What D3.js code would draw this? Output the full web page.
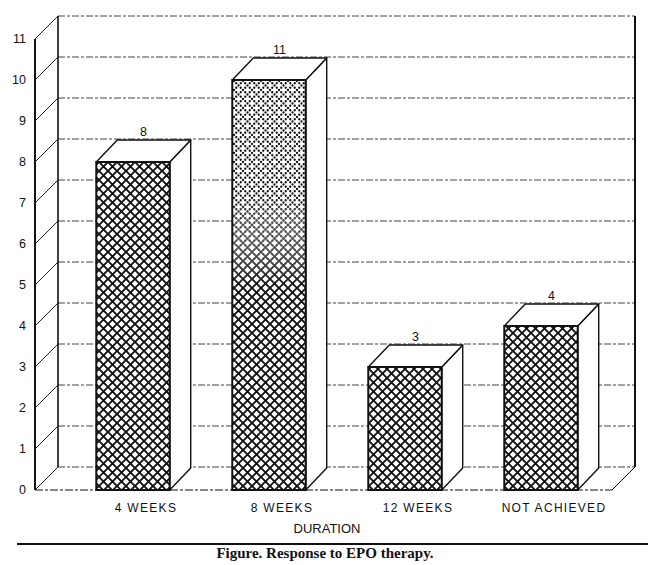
<!DOCTYPE html>
<html>
<head>
<meta charset="utf-8">
<script src="https://cdn.jsdelivr.net/npm/d3@7"></script>
<style>
  body { margin: 0; background: #fff; }
  svg { display: block; }
</style>
</head>
<body>
<div id="chart"></div>
<script>
// data
const categories = ['4 WEEKS', '8 WEEKS', '12 WEEKS', 'NOT ACHIEVED'];
const patients = [8, 10, 3, 4];
const valueLabels = ['8', '11', '3', '4'];
const yTicks = [0, 1, 2, 3, 4, 5, 6, 7, 8, 9, 10, 11];

const W = 650, H = 565;
const wall = { dx: 23, dy: 23 };   // depth of the back wall
const bar3d = { dx: 21, dy: 22 };  // depth of each bar

const svg = d3.select('#chart').append('svg')
  .attr('width', W)
  .attr('height', H);

const defs = svg.append('defs');

// crosshatch diamonds
const hatch = defs.append('pattern')
  .attr('id', 'hatch')
  .attr('patternUnits', 'userSpaceOnUse')
  .attr('width', 9).attr('height', 9);
hatch.append('path')
  .attr('d', 'M0,0L9,9M9,0L0,9')
  .attr('stroke', '#111')
  .attr('stroke-width', 1.9);

// stipple used on the upper part of the 8 weeks bar: dots sitting on the hatch lines
const dotPts = [[0, 0], [9, 0], [0, 9], [9, 9], [4.5, 4.5],
  [2.25, 2.25], [6.75, 2.25], [2.25, 6.75], [6.75, 6.75]];
const dots = defs.append('pattern')
  .attr('id', 'dots')
  .attr('patternUnits', 'userSpaceOnUse')
  .attr('width', 9).attr('height', 9);
dots.selectAll('circle')
  .data(dotPts)
  .join('circle')
  .attr('cx', (d) => d[0])
  .attr('cy', (d) => d[1])
  .attr('r', 1.15)
  .attr('fill', '#111');

function fadeMask(id, top, bottom) {
  const g = defs.append('linearGradient')
    .attr('id', id + 'Grad')
    .attr('x1', 0).attr('y1', 0).attr('x2', 0).attr('y2', 1);
  g.append('stop').attr('offset', 0).attr('stop-color', top);
  g.append('stop').attr('offset', 0.28).attr('stop-color', top);
  g.append('stop').attr('offset', 0.5).attr('stop-color', bottom);
  g.append('stop').attr('offset', 1).attr('stop-color', bottom);
  defs.append('mask')
    .attr('id', id)
    .attr('maskContentUnits', 'objectBoundingBox')
    .append('rect')
    .attr('width', 1).attr('height', 1)
    .attr('fill', `url(#${id}Grad)`);
}
fadeMask('dotMask', '#fff', '#000');
fadeMask('hatchMask', '#000', '#fff');

const x = d3.scaleBand()
  .domain(categories)
  .range([65, 609])
  .paddingInner(0.46)
  .paddingOuter(0.23);

const y = d3.scaleLinear()
  .domain([0, 11])
  .range([490, 39]);

const x0 = 35, x1 = 612;   // front edges of the floor

// back wall gridlines
svg.append('g')
  .selectAll('line')
  .data(yTicks)
  .join('line')
  .attr('x1', x0 + wall.dx)
  .attr('x2', x1 + wall.dx)
  .attr('y1', (d) => y(d) - wall.dy)
  .attr('y2', (d) => y(d) - wall.dy)
  .attr('stroke', '#444')
  .attr('stroke-width', 1)
  .attr('stroke-dasharray', '7,2,3,2');

// left wall diagonals
svg.append('g')
  .selectAll('line')
  .data(yTicks)
  .join('line')
  .attr('x1', x0)
  .attr('y1', (d) => y(d))
  .attr('x2', x0 + wall.dx)
  .attr('y2', (d) => y(d) - wall.dy)
  .attr('stroke', '#222')
  .attr('stroke-width', 1);

// frame lines
const frame = svg.append('g').attr('stroke', '#111').attr('fill', 'none');
frame.append('line')
  .attr('x1', x0).attr('x2', x0)
  .attr('y1', y(0)).attr('y2', y(11))
  .attr('stroke-width', 2);
frame.append('line')
  .attr('x1', x0 + wall.dx).attr('x2', x0 + wall.dx)
  .attr('y1', y(0) - wall.dy).attr('y2', y(11) - wall.dy)
  .attr('stroke-width', 1.6);
frame.append('line')
  .attr('x1', x1 + wall.dx).attr('x2', x1 + wall.dx)
  .attr('y1', y(0) - wall.dy).attr('y2', y(11) - wall.dy)
  .attr('stroke-width', 2);
frame.append('line')
  .attr('x1', x0).attr('x2', x1)
  .attr('y1', y(0)).attr('y2', y(0))
  .attr('stroke-width', 1)
  .attr('stroke-dasharray', '8,2,3,2');
frame.append('line')
  .attr('x1', x1).attr('x2', x1 + wall.dx)
  .attr('y1', y(0)).attr('y2', y(0) - wall.dy)
  .attr('stroke-width', 1);

// y tick labels on the front axis
svg.append('g')
  .selectAll('text')
  .data(yTicks)
  .join('text')
  .attr('x', 26)
  .attr('y', (d) => y(d))
  .attr('dy', '0.35em')
  .attr('text-anchor', 'end')
  .attr('font-family', 'Liberation Sans, Arial, sans-serif')
  .attr('font-size', 12.5)
  .attr('fill', '#111')
  .text((d) => d);

// bars
const bars = svg.append('g')
  .selectAll('g')
  .data(patients)
  .join('g');

const bw = x.bandwidth();

bars.append('path')   // right side face
  .attr('d', (d, i) => {
    const xr = x(categories[i]) + bw;
    return `M${xr},${y(0)}L${xr + bar3d.dx},${y(0) - bar3d.dy}L${xr + bar3d.dx},${y(d) - bar3d.dy}L${xr},${y(d)}Z`;
  })
  .attr('fill', '#fff')
  .attr('stroke', '#111')
  .attr('stroke-width', 1.4)
  .attr('stroke-linejoin', 'round');

bars.append('path')   // top face
  .attr('d', (d, i) => {
    const xl = x(categories[i]);
    return `M${xl},${y(d)}L${xl + bar3d.dx},${y(d) - bar3d.dy}L${xl + bw + bar3d.dx},${y(d) - bar3d.dy}L${xl + bw},${y(d)}Z`;
  })
  .attr('fill', '#fff')
  .attr('stroke', '#111')
  .attr('stroke-width', 1.4)
  .attr('stroke-linejoin', 'round');

// front face: white base, then the fill pattern(s), then the outline
bars.append('rect')
  .attr('x', (d, i) => x(categories[i]))
  .attr('y', (d) => y(d))
  .attr('width', bw)
  .attr('height', (d) => y(0) - y(d))
  .attr('fill', '#fff');

bars.append('rect')
  .attr('x', (d, i) => x(categories[i]))
  .attr('y', (d) => y(d))
  .attr('width', bw)
  .attr('height', (d) => y(0) - y(d))
  .attr('fill', 'url(#hatch)')
  .attr('mask', (d, i) => i === 1 ? 'url(#hatchMask)' : null);

// the 8 weeks bar is stippled toward its top
bars.filter((d, i) => i === 1)
  .append('rect')
  .attr('x', x(categories[1]))
  .attr('y', (d) => y(d))
  .attr('width', bw)
  .attr('height', (d) => y(0) - y(d))
  .attr('fill', 'url(#dots)')
  .attr('mask', 'url(#dotMask)');

bars.append('rect')
  .attr('x', (d, i) => x(categories[i]))
  .attr('y', (d) => y(d))
  .attr('width', bw)
  .attr('height', (d) => y(0) - y(d))
  .attr('fill', 'none')
  .attr('stroke', '#111')
  .attr('stroke-width', 2);

// value labels
bars.append('text')
  .attr('x', (d, i) => x(categories[i]) + bw / 2 + bar3d.dx / 2)
  .attr('y', (d) => y(d) - bar3d.dy - 4)
  .attr('text-anchor', 'middle')
  .attr('font-family', 'Liberation Sans, Arial, sans-serif')
  .attr('font-size', 12.5)
  .attr('fill', '#111')
  .text((d, i) => valueLabels[i]);

// category labels
svg.append('g')
  .selectAll('text')
  .data(categories)
  .join('text')
  .attr('x', (d) => x(d) + bw / 2 + 13)
  .attr('y', 512)
  .attr('text-anchor', 'middle')
  .attr('font-family', 'Liberation Sans, Arial, sans-serif')
  .attr('font-size', 12)
  .attr('letter-spacing', 1.3)
  .attr('fill', '#111')
  .text((d) => d);

svg.append('text')
  .attr('x', 327)
  .attr('y', 533)
  .attr('text-anchor', 'middle')
  .attr('font-family', 'Liberation Sans, Arial, sans-serif')
  .attr('font-size', 13)
  .attr('fill', '#111')
  .text('DURATION');

svg.append('line')
  .attr('x1', 17).attr('x2', 648)
  .attr('y1', 544).attr('y2', 544)
  .attr('stroke', '#111')
  .attr('stroke-width', 2);

svg.append('text')
  .attr('x', 325)
  .attr('y', 558)
  .attr('text-anchor', 'middle')
  .attr('font-family', 'Liberation Serif, Times New Roman, serif')
  .attr('font-size', 15)
  .attr('font-weight', 'bold')
  .attr('fill', '#111')
  .text('Figure. Response to EPO therapy.');
</script>
</body>
</html>
